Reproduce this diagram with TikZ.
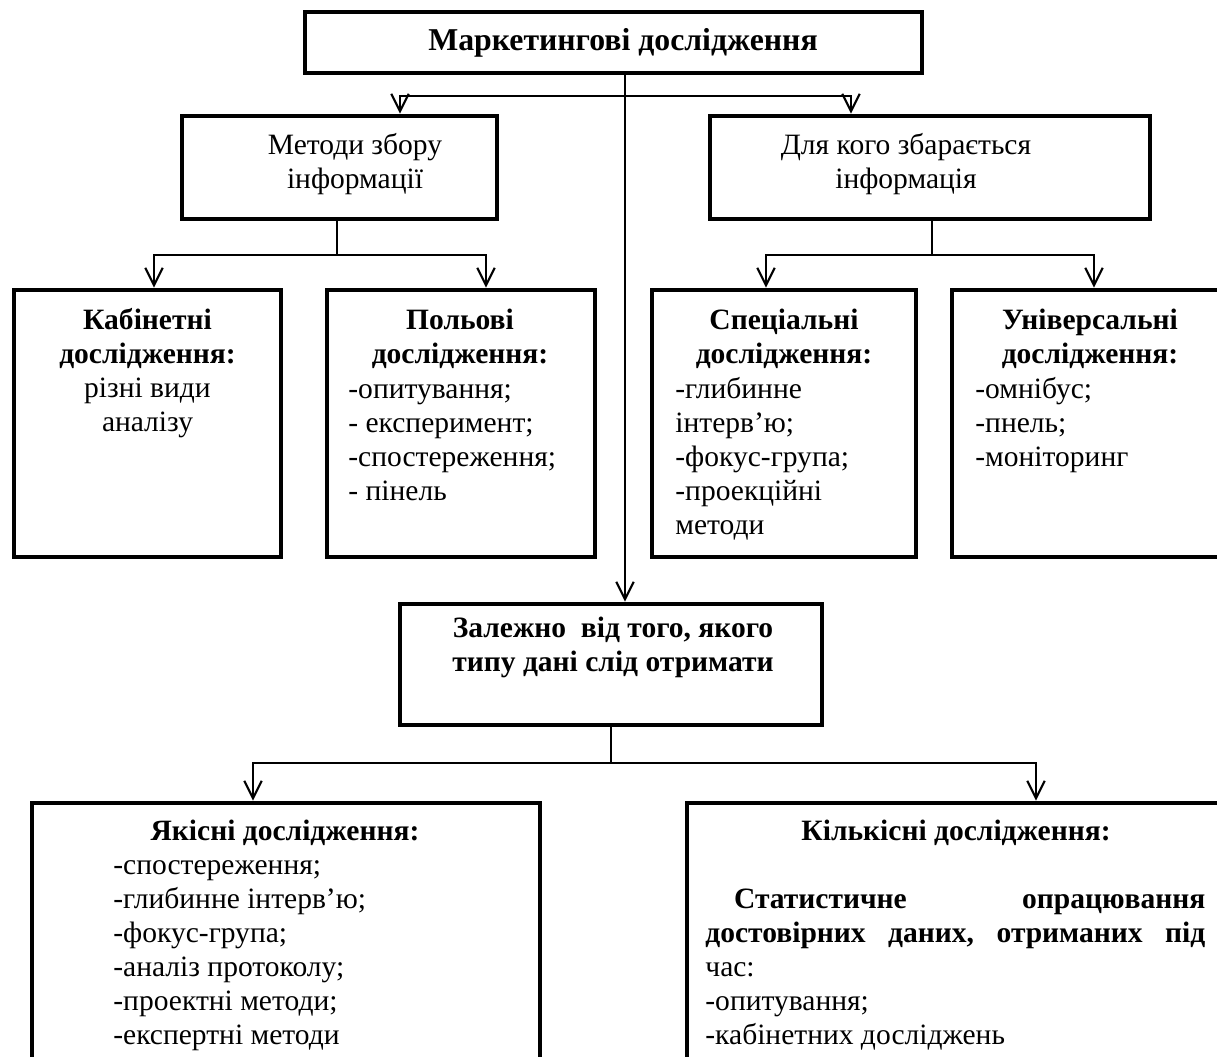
\documentclass[tikz,border=0pt]{standalone}
\usepackage{fontspec}
\setmainfont{Liberation Serif}
\usetikzlibrary{arrows.meta}
\newcommand\fs{\fontsize{14.4pt}{16.585pt}\selectfont}
\newcommand\rowsC[1]{\begin{tabular}[t]{@{}c@{}}#1\end{tabular}}
\newcommand\rowsL[1]{\begin{tabular}[t]{@{}l@{}}#1\end{tabular}}
\begin{document}
\begin{tikzpicture}[x=0.4878pt,y=-0.4878pt,
  pbox/.style 2 args={draw, line width=2.4pt, minimum width=#1*0.4878pt,
    minimum height=#2*0.4878pt, inner sep=0pt},
  txt/.style={anchor=base, inner sep=0pt, font=\fs},
  txtl/.style={anchor=base west, inner sep=0pt, font=\fs},
  arr/.style={line width=1pt, -{Straight Barb[length=8.5pt,width=8.5pt,line width=1pt]}},
  ln/.style={line width=1pt}]
\useasboundingbox (0,0) rectangle (1217,1057);

% boxes
\node[pbox={617}{61}] (top) at (613.5,42.5) {};
\node[pbox={315}{103}] (met) at (339.5,167.5) {};
\node[pbox={440}{103}] (dlk) at (930,167.5) {};
\node[pbox={267}{267}] (kab) at (147.5,423.5) {};
\node[pbox={268}{267}] (pol) at (461,423.5) {};
\node[pbox={264}{267}] (spe) at (784,423.5) {};
\node[pbox={272}{267}] (uni) at (1088,423.5) {};
\node[pbox={422}{121}] (zal) at (611,664.5) {};
\node[pbox={508}{277}] (yak) at (286,941.5) {};
\node[pbox={537}{277}] (kil) at (955.5,941.5) {};

% texts
\node[inner sep=0pt, font=\fontsize{15.5pt}{18pt}\selectfont\bfseries] (ttop) at (623,43) {Маркетингові дослідження};
\node[txt] (tmet) at (355,155) {\rowsC{Методи збору\\інформації}};
\node[txt] (tdlk) at (906,155) {\rowsC{Для кого збарається\\інформація}};
\node[txt] (tkab) at (147.5,330) {\rowsC{\textbf{Кабінетні}\\\textbf{дослідження:}\\різні види\\аналізу}};
\node[txt] (hpol) at (460,330) {\rowsC{\textbf{Польові}\\\textbf{дослідження:}}};
\node[txtl] (lpol) at (348,398) {\rowsL{-опитування;\\- експеримент;\\-спостереження;\\- пінель}};
\node[txt] (hspe) at (784,330) {\rowsC{\textbf{Спеціальні}\\\textbf{дослідження:}}};
\node[txtl] (lspe) at (675,398) {\rowsL{-глибинне\\інтерв’ю;\\-фокус-група;\\-проекційні\\методи}};
\node[txt] (huni) at (1090,330) {\rowsC{\textbf{Універсальні}\\\textbf{дослідження:}}};
\node[txtl] (luni) at (975,398) {\rowsL{-омнібус;\\-пнель;\\-моніторинг}};
\node[txt] (tzal) at (613,637) {\rowsC{\textbf{Залежно~~від того, якого}\\\textbf{типу дані слід отримати}}};
\node[txt] (hyak) at (285,840) {\textbf{Якісні дослідження:}};
\node[txtl] (lyak) at (113,874) {\rowsL{-спостереження;\\-глибинне інтерв’ю;\\-фокус-група;\\-аналіз протоколу;\\-проектні методи;\\-експертні методи}};
\node[txt] (hkil) at (956,840) {\textbf{Кількісні дослідження:}};
\node[txtl] (lkil) at (705,908) {\rowsL{%
  \hbox to 243.9pt{\hspace*{14pt}\textbf{Статистичне}\hfill\textbf{опрацювання}}\\
  \hbox to 243.9pt{\textbf{достовірних}\hfill\textbf{даних,}\hfill\textbf{отриманих}\hfill\textbf{під}}\\
  час:\\-опитування;\\-кабінетних досліджень}};

% junction points
\coordinate (cx) at (625,0);
\coordinate (hT) at (625,96);
\coordinate (aM) at (400,0);
\coordinate (aD) at (851,0);
\coordinate (hM) at (337,255);
\coordinate (aK) at (154,0);
\coordinate (aP) at (486,0);
\coordinate (hD) at (932,255);
\coordinate (aS) at (766,0);
\coordinate (aU) at (1094,0);
\coordinate (hZ) at (611,763);
\coordinate (aY) at (253,0);
\coordinate (aL) at (1036,0);

% connectors
\draw[arr] (top.south -| cx) -- (zal.north -| cx);
\draw[arr] (hT) -| (met.north -| aM);
\draw[arr] (hT) -| (dlk.north -| aD);
\draw[ln] (met.south -| hM) -- (hM);
\draw[arr] (hM) -| (kab.north -| aK);
\draw[arr] (hM) -| (pol.north -| aP);
\draw[ln] (dlk.south -| hD) -- (hD);
\draw[arr] (hD) -| (spe.north -| aS);
\draw[arr] (hD) -| (uni.north -| aU);
\draw[ln] (zal.south -| hZ) -- (hZ);
\draw[arr] (hZ) -| (yak.north -| aY);
\draw[arr] (hZ) -| (kil.north -| aL);
\end{tikzpicture}
\end{document}
